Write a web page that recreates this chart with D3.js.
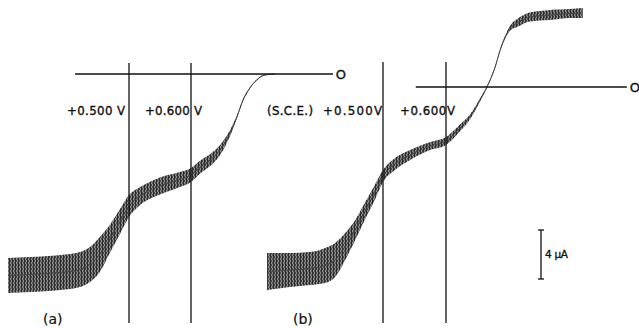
<!DOCTYPE html>
<html><head><meta charset="utf-8">
<script src="https://cdn.jsdelivr.net/npm/d3@7"></script>
<style>body{margin:0;background:#fff}svg{display:block}</style>
</head><body>
<script>
// ---- Data (potential in V vs S.C.E., current in µA, up = positive) ----
const potentialA = [0.305,0.340,0.389,0.421,0.437,0.453,0.469,0.485,0.500,0.518,0.550,0.582,0.600,0.615,0.631,0.647,0.663,0.674,0.684,0.695,0.706,0.719,0.735];
const currentA   = [-16.45,-16.37,-16.20,-15.96,-15.55,-14.73,-13.47,-12.08,-10.78,-9.96,-9.14,-8.61,-8.24,-7.59,-7.02,-6.20,-4.82,-3.51,-2.12,-1.14,-0.49,-0.08,0];
const rippleA    = [2.86,2.86,2.86,2.86,2.86,2.86,2.29,2.04,1.80,1.47,1.39,1.22,1.14,1.06,0.98,0.82,0.49,0.24,0.16,0.12,0.08,0.08,0];

const potentialB = [0.316,0.352,0.384,0.408,0.424,0.440,0.456,0.471,0.487,0.500,0.519,0.543,0.575,0.600,0.622,0.638,0.654,0.665,0.678,0.686,0.694,0.702,0.713,0.733,0.765,0.797,0.817];
const currentB   = [-15.06,-14.94,-14.82,-14.57,-14.12,-13.02,-11.67,-10.16,-8.61,-7.27,-6.29,-5.55,-4.82,-4.41,-3.35,-2.45,-1.06,0,1.63,3.02,4.08,4.82,5.22,5.71,5.88,6.00,6.04];
const rippleB    = [3.02,2.78,2.69,2.86,2.78,2.20,1.63,1.39,1.22,0.98,0.98,0.82,0.65,0.65,0.57,0.41,0.24,0.16,0.16,0.16,0.24,0.41,0.65,0.73,0.82,0.73,0.82];

const markerPotentials = [0.5, 0.6];
const markerLabelsA = ["+0.500 V", "+0.600 V"];
const markerLabelsB = ["+0.500V", "+0.600V"];
const refLabel = "(S.C.E.)";
const zeroLineA = [0.413, 0.829];
const zeroLineB = [0.552, 0.887];
const zeroLabel = "O";
const panelLabels = ["(a)", "(b)"];
const scaleBarCurrent = 4;
const scaleBarLabel = "4 µA";

// ---- Layout ----
const W = 639, H = 328;
const svg = d3.select("body").append("svg").attr("width", W).attr("height", H);
const FONT = "DejaVu Sans, sans-serif";

const defs = svg.append("defs");
const pat = defs.append("pattern").attr("id","ripple").attr("patternUnits","userSpaceOnUse")
  .attr("width",3).attr("height",4);
pat.append("rect").attr("width",3).attr("height",4).attr("fill","#8c8c8c");
pat.append("rect").attr("width",1).attr("height",4).attr("fill","#2a2a2a");
pat.append("rect").attr("x",1).attr("y",0).attr("width",1).attr("height",2).attr("fill","#4a4a4a");
pat.append("rect").attr("x",2).attr("y",2).attr("width",1).attr("height",2).attr("fill","#5a5a5a");
defs.append("filter").attr("id","soft").append("feGaussianBlur").attr("stdDeviation",0.45);

const pxPerUA = 12.25;
const panels = [
  {pot: potentialA, cur: currentA, rip: rippleA, xr: [129,191], zeroY: 74, zero: zeroLineA,
   vTop: 63, vBot: 323, labels: markerLabelsA, labelOff: [[-62,58],[-46,57]], label: panelLabels[0], labelX: 43},
  {pot: potentialB, cur: currentB, rip: rippleB, xr: [383,446], zeroY: 87, zero: zeroLineB,
   vTop: 62, vBot: 323, labels: markerLabelsB, labelOff: [[-60,59],[-46,55]], label: panelLabels[1], labelX: 293}
];

function label(sel) {
  return sel.attr("font-family",FONT).attr("fill","#111").attr("stroke","#111").attr("stroke-width",0.35);
}

panels.forEach((p, pi) => {
  const x = d3.scaleLinear().domain([0.5, 0.6]).range(p.xr);
  const y = d3.scaleLinear().domain([0, -1]).range([p.zeroY, p.zeroY + pxPerUA]);
  const data = p.pot.map((v,i)=>({v, c:p.cur[i], r:p.rip[i]}));

  // ripple band
  const area = d3.area().curve(d3.curveMonotoneX)
    .x(d=>x(d.v)).y0(d=>y(d.c - d.r/2)).y1(d=>y(d.c + d.r/2));
  svg.append("path").datum(data).attr("d", area).attr("fill","url(#ripple)").attr("filter","url(#soft)");
  const line = d3.line().curve(d3.curveMonotoneX).x(d=>x(d.v)).y(d=>y(d.c));
  svg.append("path").datum(data).attr("d", line).attr("fill","none").attr("stroke","#444").attr("stroke-width",1);

  // zero line
  svg.append("line").attr("x1", x(p.zero[0])).attr("x2", x(p.zero[1]))
    .attr("y1", y(0)).attr("y2", y(0)).attr("stroke","#111").attr("stroke-width",1.3);
  label(svg.append("text")).attr("x", x(p.zero[1]) + 8).attr("y", y(0)).attr("dy","0.36em")
    .attr("text-anchor","middle").attr("font-size",13).text(zeroLabel);

  // marker lines
  markerPotentials.forEach((m, mi) => {
    svg.append("line").attr("x1", x(m)).attr("x2", x(m)).attr("y1", p.vTop).attr("y2", p.vBot)
      .attr("stroke","#111").attr("stroke-width",1.3);
    label(svg.append("text")).attr("x", x(m) + p.labelOff[mi][0]).attr("y", 115)
      .attr("font-size",11.8)
      .attr("textLength", p.labelOff[mi][1]).attr("lengthAdjust","spacing").text(p.labels[mi]);
  });

  // panel label
  label(svg.append("text")).attr("x", p.labelX).attr("y", 324).attr("font-size",14)
    .attr("stroke-width",0.2).text(p.label);
});

// (S.C.E.)
label(svg.append("text")).attr("x", 267).attr("y", 115).attr("font-size",11.8)
  .attr("textLength",46).attr("lengthAdjust","spacing").text(refLabel);

// scale bar
const sbX = 541, sbTop = 230, sbLen = scaleBarCurrent * pxPerUA;
const sb = svg.append("g").attr("stroke","#111").attr("stroke-width",1.3);
sb.append("line").attr("x1",sbX).attr("x2",sbX).attr("y1",sbTop).attr("y2",sbTop+sbLen);
sb.append("line").attr("x1",sbX-3).attr("x2",sbX+3).attr("y1",sbTop).attr("y2",sbTop);
sb.append("line").attr("x1",sbX-3).attr("x2",sbX+3).attr("y1",sbTop+sbLen).attr("y2",sbTop+sbLen);
label(svg.append("text")).attr("x", sbX+4).attr("y", 258).attr("font-size",10.5)
  .attr("textLength",23).attr("lengthAdjust","spacing").text(scaleBarLabel);
</script>
</body></html>
